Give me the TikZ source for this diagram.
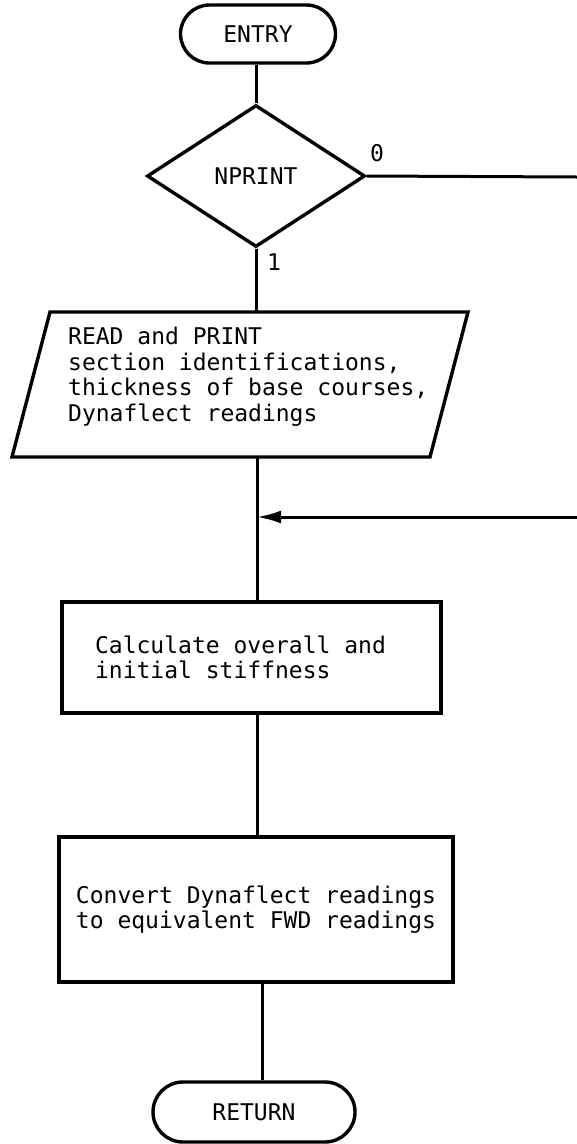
\documentclass[tikz,border=0pt]{standalone}
\usepackage{fontspec}
\setmonofont{DejaVu Sans Mono}
\usetikzlibrary{shapes.geometric,shapes.misc,arrows.meta}

\begin{document}
\begin{tikzpicture}[x=1pt,y=-1pt,
  txt/.style={font=\ttfamily\fontsize{23}{25.5}\selectfont},
  outline/.style={draw, line width=3.4pt, inner sep=0pt, txt},
  terminal/.style={outline, rounded rectangle, minimum height=58pt},
  decision/.style={outline, diamond, minimum width=218pt, minimum height=142pt},
  process/.style={outline, rectangle, align=left},
  flow/.style={line width=3pt},
  tag/.style={txt, inner sep=0pt}
]
\useasboundingbox (0,0) rectangle (577,1144);

% shapes of the flow chart
\node[terminal, minimum width=155pt] (entry) at (258,34) {ENTRY};
\node[decision] (nprint) at (256,176) {NPRINT};

% input/output parallelogram
\coordinate (ioTL) at (50,312);
\coordinate (ioTR) at (468,312);
\coordinate (ioBR) at (430,457);
\coordinate (ioBL) at (12,457);
\draw[line width=3.4pt, line join=miter] (ioTL) -- (ioTR) -- (ioBR) -- (ioBL) -- cycle;
\node[txt, inner sep=0pt, align=left, anchor=north west] (readtext) at (68,327)
  {READ and PRINT\\section identifications,\\thickness of base courses,\\Dynaflect readings};

\node[process, minimum width=379pt, minimum height=111pt] (stiff) at (251.5,657.5)
  {Calculate overall and\hspace*{22pt}\\initial stiffness};
\node[process, minimum width=394pt, minimum height=145pt] (convert) at (256,909.5)
  {Convert Dynaflect readings\\to equivalent FWD readings};
\node[terminal, minimum width=202pt, minimum height=60pt] (return) at (254,1112) {RETURN};

% branch labels
\node[tag] (lbl0) at (377,153) {0};
\node[tag] (lbl1) at (274,262) {1};

% off-page ends of the NPRINT = 0 branch
\coordinate (skipout) at (577,177);
\coordinate (skipin) at (577,517);
\coordinate (join) at (257,517);

% connectors
\draw[flow] (entry.south -| nprint.north) -- (nprint.north);
\draw[flow] (nprint.south) -- (nprint.south |- ioTL);
\draw[flow] (nprint.east) -- (skipout);
\draw[flow] (join |- ioBL) -- (join |- stiff.north);
\draw[flow, -{Latex[length=24pt,width=13pt]}] (skipin) -- (join);
\draw[flow] (join |- stiff.south) -- (join |- convert.north);
\draw[flow] ([xshift=8pt]convert.south -| return.north) -- ([xshift=8pt]return.north);
\end{tikzpicture}
\end{document}
